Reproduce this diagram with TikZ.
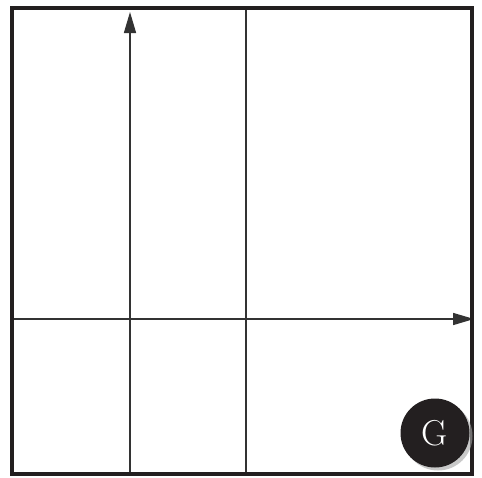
\documentclass[tikz,border=0pt]{standalone}
\usetikzlibrary{arrows.meta,shadows}
\definecolor{ink}{HTML}{231F20}
\definecolor{linec}{HTML}{333333}
\tikzset{
  axisline/.style={draw=linec, line width=1.5pt},
  axisarrow/.style={axisline, -{Triangle[length=21pt,width=12pt]}},
  frame/.style={draw=ink, line width=4pt},
  badge/.style={circle, fill=ink, minimum size=69pt, inner sep=0pt, text=white,
    font=\fontsize{36}{36}\selectfont,
    drop shadow={shadow xshift=3pt, shadow yshift=-3pt, fill=black!35, opacity=0.6}}
}
\begin{document}
\begin{tikzpicture}[x=1pt,y=-1pt]
\useasboundingbox (0,0) rectangle (482,477);
\fill[white] (0,0) rectangle (482,477);
\coordinate (vb) at (130,472);
\coordinate (vt) at (130,12);
\coordinate (mt) at (246,8);
\coordinate (mb) at (246,474);
\coordinate (hl) at (12,319);
\coordinate (hr) at (474,319);
\draw[axisarrow] (vb) -- (vt);
\draw[axisline] (mt) -- (mb);
\draw[axisarrow] (hl) -- (hr);
\draw[frame] (12,8) rectangle (472,474);
\node[badge] (g) at (435,433) {\raisebox{1pt}{G}};
\end{tikzpicture}
\end{document}
